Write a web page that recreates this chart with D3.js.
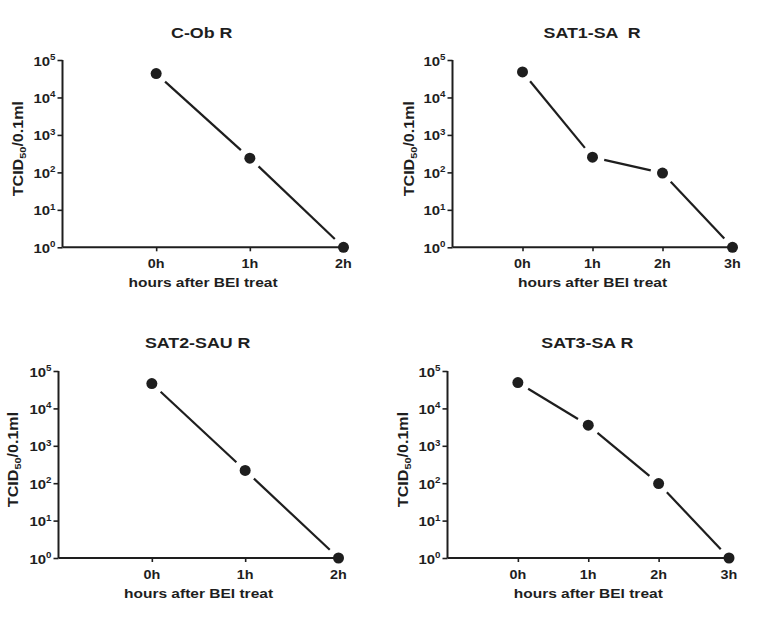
<!DOCTYPE html>
<html>
<head>
<meta charset="utf-8">
<script src="https://cdn.jsdelivr.net/npm/d3@7/dist/d3.min.js"></script>
<style>
html,body{margin:0;padding:0;background:#fff;}
svg{display:block;}
text{font-family:"Liberation Sans",Arial,Helvetica,sans-serif;font-weight:bold;fill:#1e1e1e;white-space:pre;}
</style>
</head>
<body>
<svg id="chart" width="768" height="626"></svg>
<script>
// ---- data ----
const titles = ["C-Ob R", "SAT1-SA  R", "SAT2-SAU R", "SAT3-SA R"];
const hours3 = ["0h", "1h", "2h"];
const hours4 = ["0h", "1h", "2h", "3h"];
const cObR = [43500, 240, 1];
const sat1SAR = [48000, 255, 96, 1];
const sat2SAUR = [46000, 220, 1];
const sat3SAR = [49000, 3550, 98, 1];
const yTickExps = [0, 1, 2, 3, 4, 5];
const xAxisTitle = "hours after BEI treat";

// ---- layout ----
const panels = [
  {title: titles[0], cats: hours3, vals: cObR,     left: 62.5,  right: 343.5, top: 60,  bottom: 247.3, titleX: 201.7, titleY: 38,  ylabX: 23},
  {title: titles[1], cats: hours4, vals: sat1SAR,  left: 452.5, right: 732.5, top: 60,  bottom: 247.3, titleX: 592,   titleY: 38,  ylabX: 414},
  {title: titles[2], cats: hours3, vals: sat2SAUR, left: 58.5,  right: 338.5, top: 371, bottom: 558,   titleX: 197.7, titleY: 348, ylabX: 18},
  {title: titles[3], cats: hours4, vals: sat3SAR,  left: 447.5, right: 729,   top: 371, bottom: 558,   titleX: 587.3, titleY: 348, ylabX: 408}
];

const SX = 1.15;       // horizontal stretch of the original lettering
const ink = "#1e1e1e";
const svg = d3.select("#chart");

function stretchedText(g, x, y, anchor, size) {
  return g.append("text")
    .attr("transform", `translate(${x},${y}) scale(${SX},1)`)
    .attr("text-anchor", anchor)
    .style("font-size", size + "px");
}

panels.forEach(p => {
  const g = svg.append("g");
  const n = p.cats.length;
  const x = d3.scaleLinear().domain([-1, n - 1]).range([p.left, p.right]);
  const y = d3.scaleLog().domain([1, 1e5]).range([p.bottom, p.top]);

  // y axis
  const yAxis = d3.axisLeft(y).tickValues(yTickExps.map(e => Math.pow(10, e)))
    .tickSize(5).tickFormat("");
  const ya = g.append("g").attr("transform", `translate(${p.left},0)`).call(yAxis);
  ya.select(".domain").attr("stroke", ink).attr("stroke-width", 2).attr("d", `M0,${p.top}V${p.bottom}`);
  ya.selectAll(".tick line").attr("stroke", ink).attr("stroke-width", 1.6);

  // y tick labels 10^n
  yTickExps.forEach(e => {
    const t = stretchedText(g, p.left - 7, y(Math.pow(10, e)) + 5.5, "end", 13);
    t.append("tspan").text("10");
    t.append("tspan").attr("dy", -5.5).style("font-size", "8.5px").text(e);
  });

  // x axis
  const xAxis = d3.axisBottom(x).tickValues(d3.range(n)).tickSize(4).tickFormat("");
  const xa = g.append("g").attr("transform", `translate(0,${p.bottom})`).call(xAxis);
  xa.select(".domain").attr("stroke", ink).attr("stroke-width", 2).attr("d", `M${p.left},0H${p.right}`);
  xa.selectAll(".tick line").attr("stroke", ink).attr("stroke-width", 1.6);

  p.cats.forEach((c, i) => {
    stretchedText(g, x(i), p.bottom + 20.5, "middle", 12.5).text(c);
  });

  // axis titles
  stretchedText(g, x((n - 1) / 2 - 0.5), p.bottom + 40, "middle", 13.5).text(xAxisTitle);

  const yl = g.append("text")
    .attr("transform", `translate(${p.ylabX},${(p.top + p.bottom) / 2 - 5}) rotate(-90) scale(${SX},1)`)
    .attr("text-anchor", "middle")
    .style("font-size", "14px");
  yl.append("tspan").text("TCID");
  yl.append("tspan").attr("dy", 3).style("font-size", "9.5px").text("50");
  yl.append("tspan").attr("dy", -3).text("/0.1ml");

  // title
  stretchedText(g, p.titleX, p.titleY, "middle", 15.5).text(p.title);

  // line segments with gaps around markers
  const pts = p.vals.map((v, i) => [x(i), y(v)]);
  const gap = 12;
  for (let i = 0; i < pts.length - 1; i++) {
    const [x1, y1] = pts[i], [x2, y2] = pts[i + 1];
    const dx = x2 - x1, dy = y2 - y1, L = Math.hypot(dx, dy);
    const ux = dx / L, uy = dy / L;
    g.append("line")
      .attr("x1", x1 + ux * gap).attr("y1", y1 + uy * gap)
      .attr("x2", x2 - ux * gap).attr("y2", y2 - uy * gap)
      .attr("stroke", ink).attr("stroke-width", 2.2);
  }

  g.selectAll("circle.pt").data(p.vals).enter().append("circle")
    .attr("class", "pt")
    .attr("cx", (d, i) => x(i)).attr("cy", d => y(d))
    .attr("r", 5.5).attr("fill", ink);
});
</script>
</body>
</html>
